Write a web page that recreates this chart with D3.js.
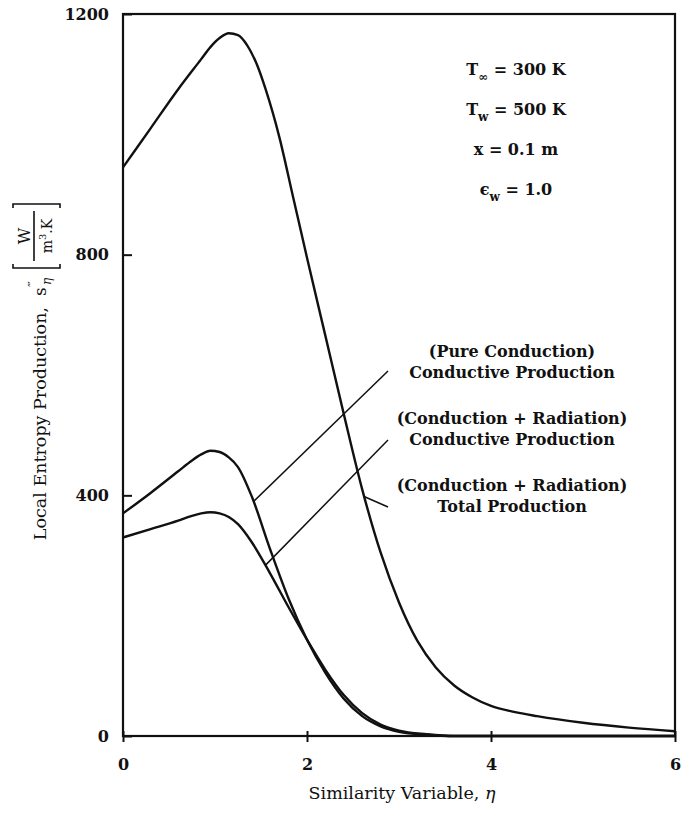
<!DOCTYPE html>
<html>
<head>
<meta charset="utf-8">
<script src="https://cdn.jsdelivr.net/npm/d3@7"></script>
<style>
  body { margin: 0; background: #fff; }
  svg { display: block; }
  text { font-family: "DejaVu Serif", "Liberation Serif", serif; fill: #111; }
</style>
</head>
<body>
<svg width="693" height="813"></svg>
<script>
// similarity variable eta and local entropy production
const etaTotal = [0, 0.3, 0.6, 0.85, 0.95, 1.05, 1.15, 1.25, 1.35, 1.45, 1.55, 1.7, 1.85, 2.0, 2.2, 2.4, 2.6, 2.8, 3.0, 3.2, 3.4, 3.6, 3.8, 4.0, 4.25, 4.5, 5.0, 5.5, 6.0];
const radTotal = [945, 1010, 1075, 1125, 1145, 1160, 1168, 1165, 1148, 1118, 1075, 995, 895, 795, 665, 535, 410, 305, 222, 158, 114, 84, 64, 50, 40, 33, 22, 14, 8];

const etaMid = [0, 0.3, 0.6, 0.75, 0.85, 0.95, 1.05, 1.15, 1.25, 1.4, 1.6, 1.8, 2.0, 2.2, 2.4, 2.6, 2.8, 3.0, 3.3, 3.6, 4.0, 5.0, 6.0];
const pureConductive = [370, 404, 440, 458, 468, 474, 472, 463, 447, 398, 310, 228, 160, 105, 62, 33, 16, 7, 2, 0, 0, 0, 0];
const radConductive = [330, 344, 358, 366, 370, 372, 370, 364, 352, 322, 270, 214, 160, 110, 68, 38, 19, 9, 3, 0, 0, 0, 0];

const xTicks = [0, 2, 4, 6];
const yTicks = [0, 400, 800, 1200];

const notes = [
    ['(Pure Conduction)', 'Conductive Production'],
    ['(Conduction + Radiation)', 'Conductive Production'],
    ['(Conduction + Radiation)', 'Total Production']
];

const margin = { left: 123, right: 18, top: 14, bottom: 77 };
const W = 693, H = 813;
const plotW = W - margin.left - margin.right;
const plotH = H - margin.top - margin.bottom;

const svg = d3.select('svg');
const chart = svg.append('g').attr('transform', `translate(${margin.left},${margin.top})`);

const x = d3.scaleLinear().domain([0, 6]).range([0, plotW]);
const y = d3.scaleLinear().domain([0, 1200]).range([plotH, 0]);

// frame
chart.append('rect')
    .attr('width', plotW).attr('height', plotH)
    .attr('fill', 'none').attr('stroke', '#111').attr('stroke-width', 2.2);

// axes, ticks crossing the frame
const xAxis = d3.axisBottom(x).tickValues(xTicks).tickSize(6).tickPadding(17).tickFormat(d3.format('d'));
const yAxis = d3.axisLeft(y).tickValues(yTicks).tickSize(8).tickPadding(6).tickFormat(d3.format('d'));

const gx = chart.append('g').attr('transform', `translate(0,${plotH})`).call(xAxis);
const gy = chart.append('g').call(yAxis);
[gx, gy].forEach(g => {
    g.select('.domain').remove();
    g.selectAll('.tick line').attr('stroke', '#111').attr('stroke-width', 2);
    g.selectAll('.tick text').style('font-size', '16px').style('font-weight', 'bold')
        .style('font-family', '"DejaVu Serif", serif').attr('fill', '#111');
});
gx.selectAll('.tick line').attr('y1', -5);
gy.selectAll('.tick line').attr('x2', 9);

// curves
const line = d3.line().x(d => x(d[0])).y(d => y(d[1])).curve(d3.curveMonotoneX);
[[etaTotal, radTotal], [etaMid, pureConductive], [etaMid, radConductive]].forEach(([xs, ys]) => {
    chart.append('path')
        .datum(xs.map((e, i) => [e, ys[i]]))
        .attr('d', line)
        .attr('fill', 'none')
        .attr('stroke', '#111')
        .attr('stroke-width', 2.4);
});

// x axis title
svg.append('text')
    .attr('x', 402).attr('y', H - 14)
    .attr('text-anchor', 'middle').style('font-size', '17.5px')
    .text('Similarity Variable, ')
    .append('tspan').style('font-style', 'italic').text('η');

// y axis title (rotated)
const yt = svg.append('g').attr('transform', 'translate(46,370) rotate(-90)');
yt.append('text').attr('x', 63).attr('y', 0).attr('text-anchor', 'end')
    .style('font-size', '17.5px').text('Local Entropy Production,');
yt.append('text').attr('x', 74).attr('y', 0).style('font-size', '17px').text('s');
yt.append('text').attr('x', 83).attr('y', -10).style('font-size', '11px').text('‴');
yt.append('text').attr('x', 85).attr('y', 5).style('font-size', '12px').style('font-style', 'italic').text('η');
// bracket with fraction W / m^3.K
const bx0 = 102, bx1 = 166, by0 = -33, by1 = 14;
yt.append('path')
    .attr('d', `M${bx0 + 4},${by0} H${bx0} V${by1} H${bx0 + 4} M${bx1 - 4},${by0} H${bx1} V${by1} H${bx1 - 4}`)
    .attr('fill', 'none').attr('stroke', '#111').attr('stroke-width', 1.6);
yt.append('line').attr('x1', bx0 + 7).attr('x2', bx1 - 7).attr('y1', -12).attr('y2', -12)
    .attr('stroke', '#111').attr('stroke-width', 1.6);
yt.append('text').attr('x', (bx0 + bx1) / 2).attr('y', -16).attr('text-anchor', 'middle')
    .style('font-size', '16px').text('W');
const den = yt.append('text').attr('x', (bx0 + bx1) / 2).attr('y', 6).attr('text-anchor', 'middle')
    .style('font-size', '14px');
den.append('tspan').text('m');
den.append('tspan').attr('dy', -6).style('font-size', '10px').text('3');
den.append('tspan').attr('dy', 6).text('.K');

// parameter block, top right
const params = svg.append('g').style('font-size', '16px').style('font-weight', 'bold');
function param(yPos, main, sub, rest) {
    const t = params.append('text').attr('x', 516).attr('y', yPos).attr('text-anchor', 'middle');
    t.append('tspan').text(main);
    t.append('tspan').attr('dy', 6).style('font-size', '12px').text(sub);
    t.append('tspan').attr('dy', -6).text(rest);
}
param(75, 'T', '∞', ' = 300 K');
param(115, 'T', 'w', ' = 500 K');
params.append('text').attr('x', 516).attr('y', 155).attr('text-anchor', 'middle').text('x = 0.1 m');
param(195, 'ϵ', 'w', ' = 1.0');

// curve labels
const labelY = [357, 424, 491];
notes.forEach((n, i) => {
    const t = svg.append('text').attr('text-anchor', 'middle').style('font-size', '16px').style('font-weight', 'bold');
    t.append('tspan').attr('x', 512).attr('y', labelY[i]).text(n[0]);
    t.append('tspan').attr('x', 512).attr('y', labelY[i] + 21).text(n[1]);
});
// leader lines from each label down to its curve
const leaders = [
    { from: [388, 371], to: [1.42, 390] },
    { from: [388, 440], to: [1.55, 284] },
    { from: [388, 507], to: [2.62, 398] }
];
leaders.forEach(l => {
    svg.append('line')
        .attr('x1', l.from[0]).attr('y1', l.from[1])
        .attr('x2', margin.left + x(l.to[0])).attr('y2', margin.top + y(l.to[1]))
        .attr('stroke', '#111').attr('stroke-width', 1.5);
});
</script>
</body>
</html>
